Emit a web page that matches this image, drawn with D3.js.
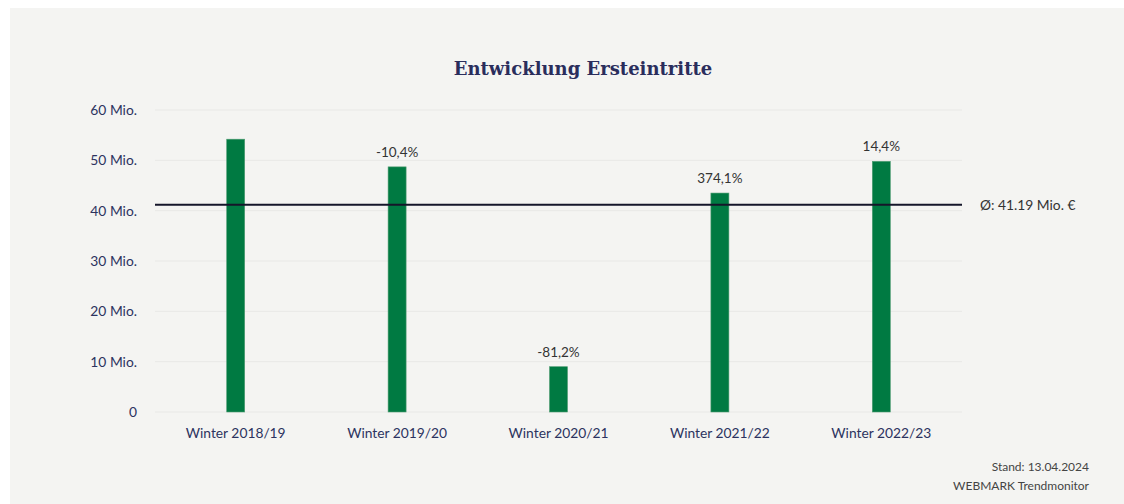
<!DOCTYPE html>
<html>
<head>
<meta charset="utf-8">
<script src="https://cdn.jsdelivr.net/npm/d3@7"></script>
<style>
  body { margin: 0; background: #fff; }
  svg { display: block; }
</style>
</head>
<body>
<svg id="chart"></svg>
<script>
/*Chart data*/
const seasons = ["Winter 2018/19", "Winter 2019/20", "Winter 2020/21", "Winter 2021/22", "Winter 2022/23"];
const entries = [54.2, 48.7, 9.0, 43.5, 49.8];
const changeLabels = ["", "-10,4%", "-81,2%", "374,1%", "14,4%"];
const yTicks = [0, 10, 20, 30, 40, 50, 60];
const average = 41.19;

/*Canvas*/
const width = 1124;
const height = 504;
const margin = {top: 110, right: 162, bottom: 92, left: 155};

const svg = d3.select("#chart")
       .attr("width", width)
       .attr("height", height);

/*panel background*/
svg.append("rect")
       .attr("x", 10)
       .attr("y", 8)
       .attr("width", width - 10)
       .attr("height", height - 8)
       .attr("fill", "#f4f4f2");

const x = d3.scaleBand()
       .domain(seasons)
       .range([margin.left, width - margin.right])
       .padding(0);

const y = d3.scaleLinear()
       .domain([0, 60])
       .range([height - margin.bottom, margin.top]);

/*gridlines*/
svg.append("g")
       .selectAll("line")
       .data(yTicks)
       .enter()
       .append("line")
       .attr("x1", margin.left)
       .attr("x2", width - margin.right)
       .attr("y1", d => y(d))
       .attr("y2", d => y(d))
       .attr("stroke", "#e8e8e6")
       .attr("stroke-width", 1);

/*y axis labels*/
const yAxis = d3.axisLeft(y)
       .tickValues(yTicks)
       .tickSize(0)
       .tickPadding(18)
       .tickFormat(d => d === 0 ? "0" : d + " Mio.");

svg.append("g")
       .attr("transform", "translate(" + margin.left + ",0)")
       .call(yAxis)
       .call(g => g.select(".domain").remove())
       .selectAll("text")
       .attr("font-family", "Lato, sans-serif")
       .attr("font-size", 13.8)
       .attr("fill", "#2c3360");

/*x axis labels*/
const xAxis = d3.axisBottom(x).tickSize(0).tickPadding(16);

svg.append("g")
       .attr("transform", "translate(0," + (height - margin.bottom) + ")")
       .call(xAxis)
       .call(g => g.select(".domain").remove())
       .selectAll("text")
       .attr("font-family", "Lato, sans-serif")
       .attr("font-size", 13.8)
       .attr("fill", "#2c3360");

/*bars*/
const barWidth = 18;
svg.append("g")
       .selectAll("rect")
       .data(entries)
       .enter()
       .append("rect")
       .attr("x", (d, i) => x(seasons[i]) + x.bandwidth() / 2 - barWidth / 2)
       .attr("y", d => y(d))
       .attr("width", barWidth)
       .attr("height", d => y(0) - y(d))
       .attr("fill", "#007a42")
       .attr("stroke", "#4f9c72")
       .attr("stroke-width", 0.6);

/*change labels*/
svg.append("g")
       .selectAll("text")
       .data(entries)
       .enter()
       .append("text")
       .attr("x", (d, i) => x(seasons[i]) + x.bandwidth() / 2)
       .attr("y", d => y(d) - 10)
       .attr("text-anchor", "middle")
       .attr("font-family", "Lato, sans-serif")
       .attr("font-size", 13.5)
       .attr("fill", "#333")
       .text((d, i) => changeLabels[i]);

/*average line*/
svg.append("line")
       .attr("x1", margin.left)
       .attr("x2", width - margin.right)
       .attr("y1", y(average))
       .attr("y2", y(average))
       .attr("stroke", "#15162a")
       .attr("stroke-width", 2);

svg.append("text")
       .attr("x", width - margin.right + 18)
       .attr("y", y(average))
       .attr("dy", "0.35em")
       .attr("font-family", "Lato, sans-serif")
       .attr("font-size", 13.8)
       .attr("fill", "#333")
       .text("Ø: " + average.toFixed(2) + " Mio. €");

/*title*/
svg.append("text")
       .attr("x", 583)
       .attr("y", 75)
       .attr("text-anchor", "middle")
       .attr("font-family", "'DejaVu Serif', serif")
       .attr("font-weight", "bold")
       .attr("font-size", 18)
       .attr("fill", "#2a2d5c")
       .text("Entwicklung Ersteintritte");

/*footnote*/
const notes = ["Stand: 13.04.2024", "WEBMARK Trendmonitor"];
svg.append("g")
       .selectAll("text")
       .data(notes)
       .enter()
       .append("text")
       .attr("x", 1089)
       .attr("y", (d, i) => 471 + i * 19)
       .attr("text-anchor", "end")
       .attr("font-family", "Lato, sans-serif")
       .attr("font-size", 12)
       .attr("fill", "#444")
       .text(d => d);
</script>
</body>
</html>
